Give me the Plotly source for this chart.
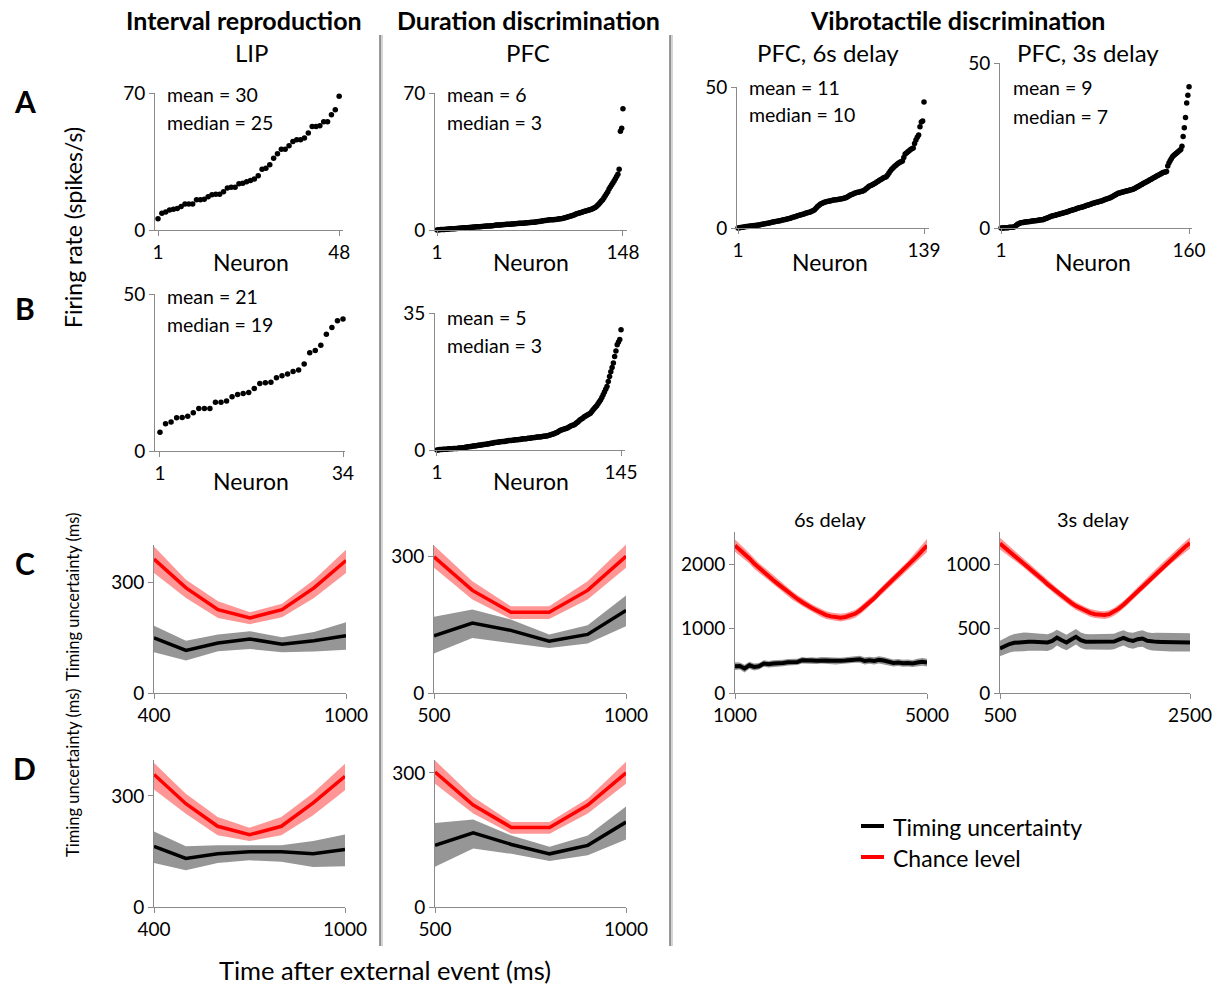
import plotly.graph_objects as go

W, H = 1214, 986
FONT = "Lato"

# ---------------- Row A / B: sorted firing rates (spikes/s) ----------------
a_lip = [5.8, 8.5, 9.2, 10.2, 10.6, 11.0, 12.0, 13.3, 13.3, 13.3,
         15.4, 15.4, 15.7, 17.0, 18.0, 18.3, 18.3, 19.6, 21.5, 21.9,
         21.9, 23.6, 23.9, 24.6, 25.3, 26.0, 27.7, 31.0, 31.6, 33.3,
         36.7, 38.9, 41.3, 41.3, 43.0, 45.2, 46.1, 46.1, 47.0, 49.5,
         52.9, 52.9, 53.3, 55.3, 55.3, 58.9, 61.5, 68.3]

a_pfc = [0.0, 0.1, 0.1, 0.2, 0.2, 0.3, 0.3, 0.4, 0.4, 0.5,
         0.5, 0.6, 0.6, 0.7, 0.7, 0.8, 0.8, 0.9, 0.9, 1.0,
         1.0, 1.1, 1.1, 1.2, 1.2, 1.3, 1.3, 1.4, 1.4, 1.5,
         1.5, 1.6, 1.6, 1.7, 1.7, 1.8, 1.8, 1.9, 1.9, 2.0,
         2.0, 2.1, 2.1, 2.2, 2.2, 2.3, 2.4, 2.5, 2.5, 2.6,
         2.6, 2.7, 2.7, 2.8, 2.8, 2.9, 2.9, 3.0, 3.0, 3.1,
         3.1, 3.2, 3.2, 3.3, 3.3, 3.4, 3.4, 3.5, 3.5, 3.6,
         3.6, 3.7, 3.7, 3.8, 3.8, 3.9, 3.9, 4.0, 4.1, 4.2,
         4.3, 4.4, 4.5, 4.6, 4.7, 4.8, 4.9, 5.0, 5.1, 5.2,
         5.2, 5.3, 5.3, 5.4, 5.4, 5.5, 5.6, 5.7, 5.8, 5.9,
         6.0, 6.2, 6.4, 6.6, 6.8, 7.0, 7.2, 7.4, 7.6, 7.9,
         8.2, 8.4, 8.6, 8.8, 9.0, 9.2, 9.4, 9.6, 9.8, 10.0,
         10.2, 10.4, 10.6, 10.9, 11.2, 11.5, 12.0, 12.6, 13.3, 14.0,
         14.8, 15.4, 16.5, 17.5, 18.5, 19.5, 21.0, 22.0, 23.0, 24.0,
         25.0, 26.2, 27.3, 28.5, 31.0, 50.5, 52.0, 62.0]

a_6s = [0.0, 0.1, 0.2, 0.3, 0.3, 0.4, 0.5, 0.5, 0.6, 0.7,
        0.7, 0.8, 0.9, 0.9, 1.0, 1.1, 1.1, 1.2, 1.3, 1.4,
        1.5, 1.6, 1.7, 1.8, 1.9, 2.0, 2.1, 2.2, 2.3, 2.4,
        2.5, 2.6, 2.7, 2.8, 2.9, 3.0, 3.1, 3.3, 3.4, 3.5,
        3.7, 3.8, 4.0, 4.1, 4.3, 4.4, 4.6, 4.7, 4.9, 5.0,
        5.2, 5.3, 5.5, 5.6, 5.8, 6.0, 6.2, 6.6, 7.1, 7.6,
        8.0, 8.4, 8.7, 8.9, 9.1, 9.2, 9.4, 9.5, 9.6, 9.7,
        9.8, 9.9, 10.0, 10.0, 10.1, 10.2, 10.3, 10.4, 10.5, 10.6,
        10.7, 11.0, 11.3, 11.6, 11.8, 12.0, 12.2, 12.4, 12.6, 12.7,
        12.8, 12.9, 13.0, 13.2, 13.5, 13.9, 14.3, 14.7, 15.0, 15.2,
        15.4, 15.7, 16.0, 16.3, 16.6, 16.9, 17.2, 17.5, 17.8, 18.0,
        18.2, 18.8, 19.5, 20.2, 20.8, 21.3, 21.8, 22.2, 22.6, 23.0,
        23.3, 23.5, 23.8, 25.0, 26.2, 26.6, 27.0, 27.4, 27.8, 28.1,
        28.4, 30.0, 31.2, 32.2, 33.0, 35.9, 37.6, 37.9, 44.7]

a_3s = [0.0, 0.0, 0.0, 0.1, 0.1, 0.1, 0.1, 0.2, 0.2, 0.2,
        0.2, 0.3, 0.5, 0.8, 1.1, 1.3, 1.5, 1.6, 1.7, 1.7,
        1.8, 1.8, 1.9, 1.9, 2.0, 2.0, 2.1, 2.1, 2.2, 2.2,
        2.3, 2.3, 2.4, 2.4, 2.5, 2.5, 2.6, 2.8, 2.9, 3.0,
        3.2, 3.3, 3.5, 3.6, 3.7, 3.8, 3.9, 4.0, 4.1, 4.2,
        4.3, 4.4, 4.5, 4.6, 4.7, 4.8, 4.9, 5.0, 5.2, 5.3,
        5.4, 5.5, 5.6, 5.7, 5.9, 6.0, 6.1, 6.2, 6.3, 6.4,
        6.5, 6.6, 6.8, 6.9, 7.0, 7.1, 7.2, 7.4, 7.5, 7.6,
        7.7, 7.8, 7.9, 8.0, 8.1, 8.2, 8.3, 8.5, 8.6, 8.8,
        8.9, 9.0, 9.1, 9.3, 9.5, 9.7, 9.9, 10.1, 10.3, 10.5,
        10.6, 10.7, 10.8, 10.9, 11.0, 11.1, 11.2, 11.3, 11.4, 11.5,
        11.6, 11.7, 11.8, 12.0, 12.2, 12.4, 12.6, 12.8, 13.0, 13.2,
        13.4, 13.6, 13.8, 14.0, 14.2, 14.4, 14.6, 14.8, 15.0, 15.2,
        15.4, 15.6, 15.8, 16.0, 16.2, 16.4, 16.6, 16.8, 16.9, 17.0,
        17.1, 18.8, 19.7, 20.4, 21.0, 21.6, 22.0, 22.3, 22.6, 22.9,
        23.2, 23.5, 23.8, 24.8, 27.7, 30.4, 33.5, 37.9, 40.2, 42.8]

b_lip = [6.0, 8.7, 9.2, 10.6, 10.7, 11.1, 12.2, 13.5, 13.5, 13.5,
         15.5, 15.5, 15.9, 17.3, 18.0, 18.3, 18.6, 19.9, 21.5, 21.7,
         21.9, 23.3, 24.0, 24.5, 25.3, 25.8, 27.7, 31.3, 32.0, 33.7,
         37.2, 39.3, 41.5, 42.0]

b_pfc = [0.0, 0.0, 0.1, 0.1, 0.1, 0.2, 0.2, 0.2, 0.2, 0.3,
         0.3, 0.3, 0.3, 0.4, 0.4, 0.4, 0.4, 0.5, 0.5, 0.5,
         0.6, 0.6, 0.7, 0.7, 0.8, 0.8, 0.9, 0.9, 1.0, 1.0,
         1.1, 1.1, 1.2, 1.2, 1.3, 1.3, 1.4, 1.4, 1.5, 1.5,
         1.6, 1.6, 1.7, 1.7, 1.8, 1.9, 1.9, 2.0, 2.0, 2.1,
         2.1, 2.2, 2.2, 2.2, 2.3, 2.3, 2.4, 2.4, 2.4, 2.5,
         2.5, 2.6, 2.6, 2.6, 2.7, 2.7, 2.8, 2.8, 2.9, 2.9,
         2.9, 3.0, 3.0, 3.0, 3.1, 3.1, 3.2, 3.2, 3.3, 3.3,
         3.3, 3.4, 3.4, 3.5, 3.5, 3.6, 3.6, 3.7, 3.8, 3.9,
         4.0, 4.1, 4.2, 4.4, 4.5, 4.7, 4.9, 5.1, 5.2, 5.3,
         5.4, 5.5, 5.6, 5.8, 6.0, 6.2, 6.3, 6.4, 6.6, 6.9,
         7.1, 7.4, 7.7, 7.9, 8.1, 8.4, 8.6, 8.8, 9.0, 9.2,
         9.4, 9.8, 10.2, 10.6, 11.0, 11.3, 11.8, 12.3, 12.8, 13.4,
         14.1, 14.8, 15.5, 16.2, 17.5, 18.8, 20.0, 21.1, 22.2, 23.9,
         25.3, 26.9, 27.6, 28.2, 30.7]

# ---------------- Row C / D: timing uncertainty (ms) ----------------
t_lip = [400, 500, 600, 700, 800, 900, 1000]
t_pfc = [500, 600, 700, 800, 900, 1000]

c_lip_chance = [362, 284, 225, 203, 225, 284, 358]
c_lip_chance_hi = [396, 306, 248, 218, 241, 306, 387]
c_lip_chance_lo = [324, 257, 203, 186, 205, 257, 324]
c_lip_unc = [149, 115, 135, 146, 132, 141, 155]
c_lip_unc_hi = [182, 141, 158, 167, 151, 165, 191]
c_lip_unc_lo = [110, 88, 113, 119, 110, 112, 117]

c_pfc_chance = [300, 226, 178, 178, 226, 301]
c_pfc_chance_hi = [325, 246, 191, 191, 246, 327]
c_pfc_chance_lo = [276, 206, 163, 163, 206, 276]
c_pfc_unc = [126, 154, 138, 114, 129, 182]
c_pfc_unc_hi = [168, 184, 162, 129, 149, 215]
c_pfc_unc_lo = [87, 121, 110, 99, 109, 147]

d_lip_chance = [358, 279, 218, 195, 218, 281, 353]
d_lip_chance_hi = [389, 306, 243, 214, 243, 308, 387]
d_lip_chance_lo = [317, 252, 194, 178, 194, 248, 315]
d_lip_unc = [164, 131, 144, 149, 149, 144, 155]
d_lip_unc_hi = [204, 164, 167, 167, 167, 178, 196]
d_lip_unc_lo = [119, 99, 119, 126, 122, 108, 110]

d_pfc_chance = [302, 228, 178, 178, 228, 300]
d_pfc_chance_hi = [328, 246, 190, 190, 243, 325]
d_pfc_chance_lo = [276, 209, 164, 164, 209, 276]
d_pfc_unc = [138, 166, 140, 119, 138, 190]
d_pfc_unc_hi = [188, 196, 160, 135, 160, 225]
d_pfc_unc_lo = [90, 131, 119, 103, 116, 151]

t_6s = list(range(1000, 5001, 100))
c_6s_chance = [2290, 2230, 2160, 2090, 2010, 1940, 1880, 1820, 1750, 1690,
               1630, 1570, 1510, 1460, 1410, 1360, 1320, 1280, 1240, 1210,
               1190, 1180, 1170, 1180, 1200, 1230, 1280, 1340, 1410, 1470,
               1550, 1620, 1690, 1760, 1830, 1900, 1970, 2050, 2130, 2210, 2290]
c_6s_chance_err = [95, 90, 85, 80, 80, 75, 75, 70, 70, 70,
                   65, 65, 65, 60, 60, 60, 60, 60, 60, 60,
                   60, 60, 60, 60, 60, 60, 60, 60, 60, 65,
                   65, 65, 70, 70, 70, 75, 75, 80, 85, 90, 100]
c_6s_unc = [416, 420, 380, 430, 405, 415, 457, 447, 457, 457,
            467, 478, 483, 483, 509, 499, 504, 499, 509, 504,
            499, 494, 499, 504, 509, 519, 525, 499, 509, 499,
            514, 504, 483, 467, 473, 462, 467, 457, 473, 483, 473]
c_6s_unc_err = [60, 55, 60, 55, 55, 50, 50, 50, 50, 50,
                50, 50, 50, 50, 50, 50, 50, 50, 50, 50,
                50, 50, 50, 50, 50, 50, 55, 55, 55, 55,
                55, 55, 55, 55, 55, 55, 55, 55, 60, 60, 60]

t_3s = list(range(500, 2501, 50))
c_3s_chance = [1160, 1130, 1100, 1070, 1040, 1010, 975, 945, 910, 880,
               845, 815, 785, 755, 725, 700, 675, 655, 638, 622,
               612, 606, 605, 612, 630, 655, 685, 720, 755, 790,
               825, 860, 895, 935, 970, 1005, 1040, 1075, 1105, 1135, 1165]
c_3s_chance_err = [45, 42, 40, 38, 36, 35, 34, 33, 32, 31,
                   30, 30, 30, 30, 30, 30, 30, 30, 30, 30,
                   30, 30, 30, 30, 30, 30, 30, 30, 30, 30,
                   30, 31, 32, 33, 34, 35, 36, 38, 40, 42, 45]
c_3s_unc = [345, 365, 380, 390, 395, 397, 398, 397, 396, 393,
            392, 405, 430, 410, 392, 415, 436, 410, 398, 397,
            397, 396, 395, 396, 400, 415, 428, 412, 405, 418,
            423, 405, 398, 397, 396, 395, 393, 392, 390, 392, 393]
c_3s_unc_err = [60, 62, 65, 68, 70, 72, 70, 68, 66, 65,
                65, 65, 62, 62, 60, 60, 60, 60, 60, 60,
                60, 60, 60, 60, 60, 60, 60, 60, 62, 62,
                64, 66, 68, 70, 70, 70, 70, 70, 70, 70, 70]

RED = "#ff0000"
RED_BAND = "rgb(255,150,150)"
GRAY_BAND = "rgb(150,150,150)"
AXIS_COLOR = "#8a8a8a"


def px(x):
    return x / W


def py(y):
    return 1 - y / H


fig = go.Figure()
axis_id = [0]


def add_axes(box, xr, yr, xt, xtt, yt):
    axis_id[0] += 1
    n = axis_id[0]
    l, r, t, b = box
    suf = "" if n == 1 else str(n)
    common = dict(showline=True, linecolor=AXIS_COLOR, linewidth=1, ticks="outside",
                  ticklen=5, tickcolor=AXIS_COLOR, showgrid=False, zeroline=False,
                  automargin=False,
                  tickfont=dict(family=FONT, size=19, color="black"), fixedrange=True)
    fig.layout["xaxis" + suf] = dict(domain=[px(l), px(r)], range=xr, tickvals=xt,
                                      ticktext=xtt, anchor="y" + suf, **common)
    fig.layout["yaxis" + suf] = dict(domain=[py(b), py(t)], range=yr, tickvals=yt,
                                      anchor="x" + suf, **common)
    return "x" + suf, "y" + suf


def scatter_panel(box, xr, yr, values, ytick):
    xa, ya = add_axes(box, xr, yr, [1, len(values)], ["1", str(len(values))], [0, ytick])
    fig.add_trace(go.Scatter(x=list(range(1, len(values) + 1)), y=values, mode="markers",
                             marker=dict(color="black", size=5.5), cliponaxis=False,
                             xaxis=xa, yaxis=ya, showlegend=False, hoverinfo="skip"))


def band(xa, ya, x, lo, hi, color):
    fig.add_trace(go.Scatter(x=list(x) + list(x)[::-1], y=list(hi) + list(lo)[::-1],
                             fill="toself", fillcolor=color, line=dict(width=0),
                             mode="lines", xaxis=xa, yaxis=ya, showlegend=False,
                             hoverinfo="skip"))


def line(xa, ya, x, y, color, w=3.5):
    fig.add_trace(go.Scatter(x=x, y=y, mode="lines", line=dict(color=color, width=w),
                             xaxis=xa, yaxis=ya, showlegend=False, hoverinfo="skip"))


def timing_panel(box, xr, yr, xt, yt, x, ch, chlo, chhi, un, unlo, unhi, w=3.5):
    xa, ya = add_axes(box, xr, yr, xt, [str(v) for v in xt], yt)
    band(xa, ya, x, unlo, unhi, GRAY_BAND)
    band(xa, ya, x, chlo, chhi, RED_BAND)
    line(xa, ya, x, un, "black", w)
    line(xa, ya, x, ch, RED, w)


# Row A
scatter_panel((155, 343, 93, 230), [0.22, 49.0], [0, 70], a_lip, 70)
scatter_panel((435, 627, 93, 230), [-0.6, 151.2], [0, 70], a_pfc, 70)
scatter_panel((737, 929, 87, 228), [0.26, 142.7], [0, 50], a_6s, 50)
scatter_panel((1000, 1192, 63, 228), [0.15, 162.5], [0, 50], a_3s, 50)
# Row B
scatter_panel((155, 345, 294, 451), [0.1, 34.36], [0, 50], b_lip, 50)
scatter_panel((435, 625, 313, 450), [-0.56, 148.1], [0, 35], b_pfc, 35)

# Row C
timing_panel((154, 346, 545, 693), [400, 1000], [0, 400], [400, 1000], [0, 300],
             t_lip, c_lip_chance, c_lip_chance_lo, c_lip_chance_hi,
             c_lip_unc, c_lip_unc_lo, c_lip_unc_hi)
timing_panel((434, 626, 545, 693), [500, 1000], [0, 326], [500, 1000], [0, 300],
             t_pfc, c_pfc_chance, c_pfc_chance_lo, c_pfc_chance_hi,
             c_pfc_unc, c_pfc_unc_lo, c_pfc_unc_hi)
timing_panel((735, 927, 532, 693), [1000, 5000], [0, 2500], [1000, 5000], [0, 1000, 2000],
             t_6s, c_6s_chance, [a - e for a, e in zip(c_6s_chance, c_6s_chance_err)],
             [a + e for a, e in zip(c_6s_chance, c_6s_chance_err)],
             c_6s_unc, [a - e for a, e in zip(c_6s_unc, c_6s_unc_err)],
             [a + e for a, e in zip(c_6s_unc, c_6s_unc_err)], w=4)
timing_panel((1000, 1190, 532, 693), [500, 2500], [0, 1250], [500, 2500], [0, 500, 1000],
             t_3s, c_3s_chance, [a - e for a, e in zip(c_3s_chance, c_3s_chance_err)],
             [a + e for a, e in zip(c_3s_chance, c_3s_chance_err)],
             c_3s_unc, [a - e for a, e in zip(c_3s_unc, c_3s_unc_err)],
             [a + e for a, e in zip(c_3s_unc, c_3s_unc_err)], w=4)
# Row D
timing_panel((154, 345, 760, 907), [400, 1000], [0, 397], [400, 1000], [0, 300],
             t_lip, d_lip_chance, d_lip_chance_lo, d_lip_chance_hi,
             d_lip_unc, d_lip_unc_lo, d_lip_unc_hi)
timing_panel((435, 626, 760, 907), [500, 1000], [0, 329], [500, 1000], [0, 300],
             t_pfc, d_pfc_chance, d_pfc_chance_lo, d_pfc_chance_hi,
             d_pfc_unc, d_pfc_unc_lo, d_pfc_unc_hi)

# ---------------- Text ----------------
ann = []


def text(x, y, s, size=19, bold=False, xanchor="center", angle=0):
    ann.append(dict(x=px(x), y=py(y), xref="paper", yref="paper", text=("<b>%s</b>" % s) if bold else s,
                    showarrow=False, xanchor=xanchor, yanchor="middle", textangle=angle,
                    font=dict(family=FONT, size=size, color="black")))


text(244, 20, "Interval reproduction", 25, True)
text(528, 20, "Duration discrimination", 25, True)
text(957, 20, "Vibrotactile discrimination", 25, True)
text(251, 52, "LIP", 24)
text(528, 52, "PFC", 24)
text(828, 52, "PFC, 6s delay", 24)
text(1088, 52, "PFC, 3s delay", 24)
for lbl, yy in [("A", 101), ("B", 308), ("C", 563), ("D", 768)]:
    text(25, yy, lbl, 30, True)
text(73, 228, "Firing rate (spikes/s)", 23, angle=-90)
text(73, 597, "Timing uncertainty (ms)", 16.5, angle=-90)
text(73, 773, "Timing uncertainty (ms)", 16.5, angle=-90)
for xx, yy in [(251, 262), (531, 262), (830, 262), (1093, 262), (251, 481), (531, 481)]:
    text(xx, yy, "Neuron", 23)
text(385, 970, "Time after external event (ms)", 25.5)

stats = [(165, 94, "mean = 30", "median = 25"), (445, 94, "mean = 6", "median = 3"),
         (747, 87, "mean = 11", "median = 10"), (1011, 88, "mean = 9", "median = 7"),
         (165, 296, "mean = 21", "median = 19"), (445, 317, "mean = 5", "median = 3")]
for xx, yy, m1, m2 in stats:
    text(xx, yy, m1, 19.5, xanchor="left")
    text(xx, yy + 28, m2, 19.5, xanchor="left")

text(830, 519, "6s delay", 20)
text(1093, 519, "3s delay", 20)

# legend
text(891, 827, "Timing uncertainty", 23, xanchor="left")
text(891, 858, "Chance level", 23, xanchor="left")

shapes = [
    dict(type="line", xref="paper", yref="paper", x0=px(861), x1=px(884), y0=py(826), y1=py(826),
         line=dict(color="black", width=4)),
    dict(type="line", xref="paper", yref="paper", x0=px(861), x1=px(884), y0=py(857), y1=py(857),
         line=dict(color=RED, width=4)),
]
for xs in (380, 670):
    shapes.append(dict(type="line", xref="paper", yref="paper", x0=px(xs + 1.5), x1=px(xs + 1.5),
                       y0=py(35), y1=py(946), line=dict(color="#d4d4d4", width=3)))
    shapes.append(dict(type="line", xref="paper", yref="paper", x0=px(xs), x1=px(xs),
                       y0=py(35), y1=py(946), line=dict(color="#7a7a7a", width=1.5)))

fig.update_layout(template="none", width=W, height=H, autosize=False,
                  margin=dict(l=0, r=0, t=0, b=0, pad=0),
                  paper_bgcolor="white", plot_bgcolor="white", annotations=ann, shapes=shapes,
                  showlegend=False, font=dict(family=FONT))

fig.write_html("out.html", config={"displayModeBar": False},
               post_script="document.body.style.margin='0';document.body.style.padding='0';"
                           "document.body.style.overflow='hidden';")
